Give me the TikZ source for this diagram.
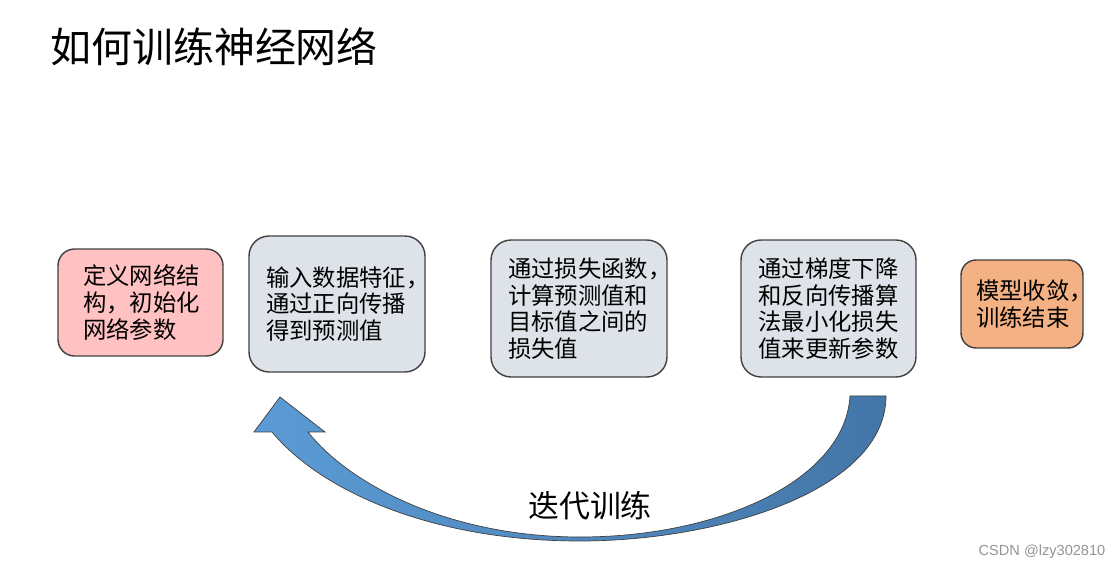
\documentclass[tikz,border=0pt]{standalone}
\usepackage{fontspec}
\setmainfont{Noto Sans CJK SC}
\newfontfamily\wmfont{Liberation Sans}
\definecolor{pinkfill}{RGB}{255,193,193}
\definecolor{grayfill}{RGB}{221,227,232}
\definecolor{orangefill}{RGB}{244,177,131}
\definecolor{edgegray}{RGB}{64,64,64}
\definecolor{arrowlight}{RGB}{91,155,213}
\definecolor{arrowdark}{RGB}{68,118,168}
\tikzset{
  stepbox/.style={draw=edgegray, line width=0.8pt, rounded corners=0.4cm, align=left,
    inner sep=0pt, font=\fontsize{13.3}{15.1}\selectfont},
}
\begin{document}
\begin{tikzpicture}[x=0.02cm, y=-0.02cm]
      \useasboundingbox (0,0) rectangle (1119,570);

      % Title
      \node (title) [anchor=west, inner sep=0pt, font=\fontsize{23.3}{28}\selectfont] at (50,47) {如何训练神经网络};

      % Training steps
      \node (init) [stepbox, fill=pinkfill, rounded corners=0.33cm, minimum width=3.3cm, minimum height=2.14cm, text width=2.3cm] at (140.5,302.5) {定义网络结\\构，初始化\\网络参数};
      \node (forward) [stepbox, fill=grayfill, minimum width=3.52cm, minimum height=2.72cm, text width=2.84cm] at (337,304) {输入数据特征，\\通过正向传播\\得到预测值};
      \node (loss) [stepbox, fill=grayfill, minimum width=3.52cm, minimum height=2.74cm, text width=2.84cm] at (579,308.5) {通过损失函数，\\计算预测值和\\目标值之间的\\损失值};
      \node (update) [stepbox, fill=grayfill, minimum width=3.5cm, minimum height=2.74cm, text width=2.8cm] at (828.5,308.5) {通过梯度下降\\和反向传播算\\法最小化损失\\值来更新参数};
      \node (done) [stepbox, fill=orangefill, rounded corners=0.3cm, minimum width=2.44cm, minimum height=1.76cm, text width=1.84cm] at (1022,304) {模型收敛，\\训练结束};

      % Loop arrow
      \shadedraw[left color=arrowlight, right color=arrowdark, draw=edgegray, line width=0.4pt]
        (886,396) .. controls (886,490) and (720,541) .. (580,541)
        .. controls (430,541) and (320,490) .. (272,432)
        -- (254,432) -- (280,397) -- (325,432) -- (308,432)
        .. controls (350,485) and (450,537) .. (580,537)
        .. controls (720,537) and (845,480) .. (850,396) -- cycle;
      \node (loop) [inner sep=0pt, font=\fontsize{17.6}{20}\selectfont] at (590,506) {迭代训练};

      % Watermark
      \node (mark) [inner sep=0pt, text=black!42, font=\wmfont\fontsize{8.3}{10}\selectfont] at (1042,552) {CSDN @lzy302810};
\end{tikzpicture}
\end{document}
